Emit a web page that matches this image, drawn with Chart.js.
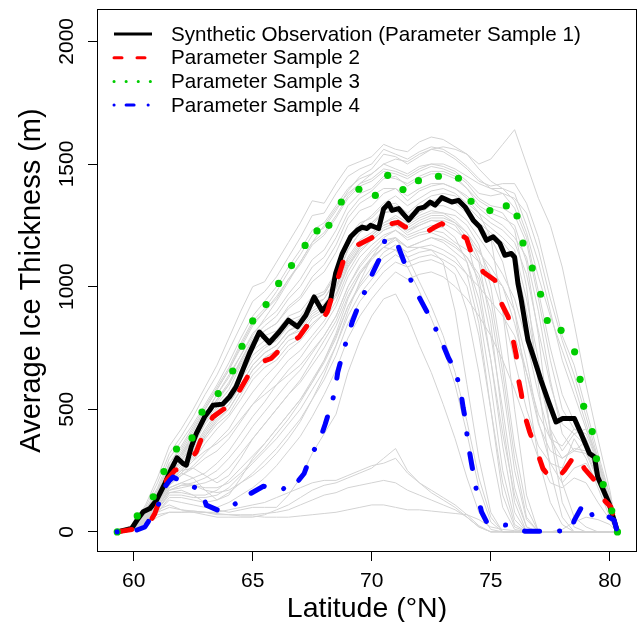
<!DOCTYPE html>
<html>
<head>
<meta charset="utf-8">
<script src="https://cdn.jsdelivr.net/npm/chart.js@4.4.1/dist/chart.umd.min.js"></script>
<style>
  html, body { margin: 0; padding: 0; background: #fff; }
  #wrap { width: 641px; height: 622px; }
</style>
</head>
<body>
<div id="wrap"><canvas id="chart" width="641" height="622"></canvas></div>
<script>
// ice thickness vs latitude, ensemble runs in gray + 4 highlighted samples

const xTicks = [60, 65, 70, 75, 80];
const yTicks = [0, 500, 1000, 1500, 2000];
const xTickLabels = ['60', '65', '70', '75', '80'];
const yTickLabels = ['0', '500', '1000', '1500', '2000'];
const xTitle = 'Latitude (\u00B0N)';
const yTitle = 'Average Ice Thickness (m)';
const seriesLabels = [
    'Synthetic Observation (Parameter Sample 1)',
    'Parameter Sample 2',
    'Parameter Sample 3',
    'Parameter Sample 4'
];

// Parameter sample 1 (black)
const latBlack = [59.3, 59.92, 60.19, 60.4, 60.68, 60.96, 61.31, 61.59, 61.82, 62.07, 62.21, 62.42, 62.63, 62.98, 63.19,
    63.33, 63.74, 64.02, 64.3, 64.6, 64.86, 65.28, 65.7, 66.11, 66.5, 66.88, 67.23, 67.58, 67.92, 68.27,
    68.48, 68.76, 69.11, 69.39, 69.6, 69.8, 69.95, 70.29, 70.5, 70.71, 70.85, 71.13, 71.55, 71.96, 72.2,
    72.45, 72.66, 72.94, 73.36, 73.64, 73.92, 74.26, 74.54, 74.82, 75.1, 75.38, 75.59, 75.86, 76.0, 76.14,
    76.28, 76.56, 76.84, 77.1, 77.4, 77.74, 78.02, 78.51, 78.79, 79.14, 79.35, 79.49, 79.97, 80.3];
const thickBlack = [0, 14, 55, 82, 95, 129, 197, 258, 302, 279, 272, 347, 401, 469, 496,
    516, 521, 550, 591, 665, 727, 815, 771, 815, 863, 836, 883, 958, 901, 945,
    1053, 1135, 1203, 1230, 1243, 1237, 1250, 1237, 1318, 1339, 1311, 1318, 1271, 1318, 1324,
    1345, 1332, 1363, 1345, 1352, 1325, 1271, 1243, 1189, 1203, 1176, 1128, 1135, 1120, 1013,
    945, 782, 700, 620, 537, 448, 462, 462, 401, 320, 306, 224, 116, 7];

// Parameter sample 2 (red dashed)
const latRed = [59.3, 59.92, 60.3, 60.61, 60.89, 61.38, 61.73, 62.0, 62.28, 62.63, 62.98, 63.33, 63.7, 64.02, 64.37,
    64.86, 65.3, 65.77, 66.26, 66.6, 66.95, 67.3, 67.6, 67.86, 68.13, 68.41, 68.62, 68.9, 69.39, 69.95,
    70.36, 70.6, 70.85, 71.1, 71.41, 71.76, 72.31, 72.6, 72.94, 73.36, 73.7, 73.98, 74.19, 74.68, 75.17,
    75.45, 75.73, 75.94, 76.07, 76.14, 76.28, 76.42, 76.63, 76.95, 77.19, 77.45, 77.68, 78.1, 78.58, 78.93,
    79.35, 79.62, 80.04, 80.32];
const thickRed = [0, 10, 15, 27, 75, 211, 251, 262, 285, 326, 415, 469, 495, 516, 564,
    646, 690, 707, 754, 770, 795, 843, 860, 856, 897, 985, 1046, 1135, 1169, 1196,
    1223, 1230, 1257, 1262, 1243, 1237, 1223, 1240, 1257, 1230, 1215, 1196, 1135, 1060, 1026,
    931, 877, 781, 720, 632, 564, 476, 408, 326, 258, 225, 204, 252, 320, 258,
    211, 143, 102, 7];

// Parameter sample 3 (green dotted)
const latGreen = [59.31, 60.15, 60.82, 61.27, 61.8, 62.45, 62.87, 63.55, 64.16, 64.55, 65.0, 65.56, 66.09, 66.63,
    67.2, 67.7, 68.2, 68.72, 69.46, 70.15, 70.67, 71.31, 71.96, 72.8, 73.64, 74.17, 74.96, 75.65,
    76.1, 76.35, 76.74, 77.09, 77.37, 77.95, 78.52, 78.75, 78.9, 79.26, 79.44, 79.72, 80.08, 80.32];
const thickGreen = [0, 65, 143, 246, 338, 383, 488, 564, 656, 757, 860, 927, 1013, 1086,
    1168, 1227, 1250, 1345, 1397, 1372, 1454, 1396, 1432, 1450, 1442, 1348, 1310, 1329,
    1288, 1178, 1076, 969, 862, 822, 734, 622, 512, 409, 298, 193, 86, 0];

// Parameter sample 4 (blue dot-dash)
const latBlue = [59.3, 60.12, 60.47, 60.61, 61.03, 61.31, 61.52, 61.65, 62.12, 62.84, 63.05, 63.64, 64.3, 64.51, 64.79,
    65.45, 66.24, 66.53, 66.72, 67.16, 67.44, 67.79, 68.04, 68.27, 68.45, 68.57, 68.8, 69.18, 69.53, 69.74,
    70.04, 70.36, 70.57, 71.06, 71.41, 71.55, 71.87, 72.36, 72.87, 73.22, 73.45, 73.71, 73.84, 73.94, 74.02,
    74.19, 74.42, 74.61, 74.82, 75.03, 75.73, 76.42, 76.98, 77.74, 78.37, 78.51, 78.9, 79.32, 79.46, 79.62,
    79.9, 80.18, 80.3];
const thickBlue = [0, 7, 20, 41, 109, 183, 211, 224, 200, 170, 109, 84, 116, 143, 150,
    186, 172, 194, 185, 238, 313, 367, 438, 510, 571, 650, 735, 856, 945, 985,
    1056, 1121, 1196, 1178, 1087, 1046, 978, 890, 792, 710, 670, 589, 506, 455, 374,
    279, 157, 82, 41, 31, 27, 3, 3, 3, 7, 48, 116, 61, 55, 68,
    64, 48, 3];

// other ensemble members (gray), all on the same latitude grid
const grayLat = [59.3, 60, 60.5, 61, 61.5, 62, 62.5, 63, 63.5, 64, 64.5, 65, 65.5, 66, 66.5,
    67, 67.5, 68, 68.5, 69, 69.5, 70, 70.5, 71, 71.5, 72, 72.5, 73, 73.5, 74,
    74.5, 75, 75.5, 76, 76.5, 77, 77.5, 78, 78.5, 79, 79.5, 80, 80.3];
const grayRuns = [
    [0,20,80,160,250, 320,400,480,560,640, 720,800,870,940,1020, 1100,1180,1250,1320,1380, 1420,1460,1500,1520,1510, 1540,1560,1570,1560,1540, 1500,1520,1580,1640,1500, 1360,1250,1080,850,600, 380,170,10],
    [0,30,110,220,350, 420,500,590,680,790, 900,1000,1020,1100,1180, 1260,1350,1340,1420,1490, 1510,1530,1580,1560,1550, 1590,1610,1600,1570,1540, 1480,1430,1400,1350,1220, 1040,880,740,600,440, 290,130,5],
    [0,20,90,180,300, 370,440,520,600,690, 790,880,940,1000,1080, 1150,1230,1260,1330,1400, 1440,1460,1500,1480,1460, 1490,1500,1490,1470,1430, 1380,1370,1380,1360,1300, 1150,950,780,640,470, 300,150,5],
    [0,15,80,150,250, 300,380,470,520,580, 680,760,800,820,880, 900,960,980,1060,1200, 1260,1280,1330,1340,1300, 1340,1370,1380,1370,1330, 1280,1240,1200,1150,950, 700,420,200,60,20, 0,0,0],
    [0,15,70,140,240, 290,350,440,500,550, 630,720,760,780,840, 860,930,950,1030,1150, 1220,1250,1300,1320,1280, 1310,1340,1350,1340,1300, 1250,1200,1100,900,600, 300,120,30,0,0, 0,0,0],
    [0,10,60,130,220, 270,330,410,480,520, 600,680,730,760,820, 840,900,930,1000,1120, 1190,1220,1260,1280,1250, 1280,1300,1300,1290,1250, 1170,1000,700,350,100, 0,0,0,0,0, 0,0,0],
    [0,10,60,120,210, 250,300,380,440,480, 560,640,690,720,780, 800,870,900,970,1090, 1160,1200,1240,1260,1220, 1250,1270,1270,1250,1180, 1000,700,350,80,0, 0,0,0,0,0, 0,0,0],
    [0,10,50,110,190, 230,260,300,330,380, 450,520,580,640,700, 740,800,860,940,1060, 1140,1190,1230,1250,1210, 1230,1250,1240,1200,1100, 900,600,250,50,0, 0,0,0,0,0, 0,0,0],
    [0,10,50,100,180, 200,220,240,280,330, 400,470,530,600,660, 710,780,840,920,1040, 1120,1170,1210,1230,1200, 1220,1230,1220,1180,1150, 1100,1050,1000,900,700, 450,280,200,260,280, 200,80,0],
    [0,10,60,120,200, 240,290,360,420,470, 540,620,670,700,760, 790,850,890,960,1080, 1150,1190,1230,1250,1230, 1250,1270,1260,1230,1190, 1140,1080,1000,850,650, 440,330,300,340,330, 220,90,0],
    [0,10,50,100,170, 180,190,200,220,260, 320,380,440,500,560, 620,700,780,860,980, 1060,1120,1160,1200,1160, 1180,1200,1180,1140,1100, 950,700,400,150,20, 0,0,0,0,0, 0,0,0],
    [0,10,40,90,160, 160,150,150,170,210, 260,310,360,420,480, 540,620,700,800,920, 1000,1060,1120,1150,1120, 1140,1150,1130,1100,1050, 1000,940,880,800,650, 480,380,350,420,380, 250,100,0],
    [0,8,40,80,140, 140,130,120,130,160, 200,240,290,340,400, 460,540,620,720,850, 940,1000,1060,1100,1080, 1100,1110,1090,1050,900, 650,350,100,10,0, 0,0,0,0,0, 0,0,0],
    [0,8,40,80,130, 120,110,100,100,120, 150,180,220,270,330, 390,470,560,660,790, 880,950,1010,1060,1030, 1050,1060,1040,1000,950, 880,800,700,580,440, 300,200,180,220,200, 120,50,0],
    [0,8,40,90,160, 170,150,120,90,80, 90,100,100,100,150, 220,320,400,480,650, 780,880,950,970,880, 760,650,520,380,220, 80,10,0,0,0, 0,0,0,0,0, 0,0,0],
    [0,8,40,100,180, 200,190,170,160,170, 200,230,270,320,380, 450,540,640,760,900, 1020,1120,1190,1200,1120, 1020,920,800,650,450, 220,60,0,0,0, 0,0,0,0,0, 0,0,0],
    [0,8,40,90,110, 90,80,70,60,60, 60,60,70,90,110, 140,170,190,200,220, 240,260,300,340,250, 200,160,130,100,60, 20,0,0,0,0, 0,0,0,0,0, 0,0,0],
    [0,8,40,70,80, 80,80,80,75,70, 70,70,75,80,90, 110,130,150,160,180, 190,200,210,200,170, 150,130,110,90,60, 20,0,0,0,0, 0,0,0,0,0, 0,0,0],
    [0,8,30,60,80, 80,85,80,70,70, 65,65,60,60,60, 65,70,75,80,90, 100,110,110,100,90, 90,85,80,75,70, 50,20,10,5,0, 0,0,10,40,60, 50,30,0],
    [0,10,60,130,230, 290,370,460,530,600, 700,780,820,850,920, 960,1040,1090,1170,1280, 1340,1370,1400,1400,1370, 1400,1420,1420,1400,1360, 1300,1200,900,500,150, 0,0,0,0,0, 0,0,0],
    [0,10,50,110,190, 240,290,330,360,400, 460,520,560,600,640, 680,740,800,880,1000, 1080,1140,1180,1200,1160, 1160,1150,1100,900,600, 300,80,0,0,0, 0,0,0,0,0, 0,0,0],
    [0,15,80,160,270, 330,410,500,580,660, 750,840,900,960,1030, 1100,1180,1220,1290,1370, 1420,1440,1480,1470,1450, 1480,1500,1500,1480,1450, 1420,1400,1400,1380,1250, 1100,900,700,560,420, 280,130,5],
    [0,10,60,120,200, 250,310,390,450,500, 580,660,710,740,800, 830,890,920,1000,1110, 1180,1210,1250,1270,1240, 1270,1290,1290,1260,1220, 1150,1050,900,700,500, 350,280,260,380,300, 180,60,0],
    [0,10,50,110,200, 240,220,170,130,150, 220,300,360,420,480, 540,610,690,790,920, 1010,1080,1140,1170,1140, 1160,1170,1150,1120,1050, 850,500,150,20,0, 0,0,0,0,0, 0,0,0],
    [0,10,50,110,200, 250,260,230,200,230, 300,380,440,500,560, 610,680,750,840,960, 1050,1110,1160,1190,1160, 1180,1200,1190,1160,1120, 1050,900,600,250,50, 0,0,0,0,0, 0,0,0],
    [0,15,75,150,260, 320,390,480,560,630, 720,810,860,900,970, 1030,1110,1150,1230,1330, 1380,1400,1450,1440,1420, 1450,1470,1470,1450,1400, 1330,1300,1280,1250,1100, 800,400,120,20,0, 0,0,0],
    [0,12,70,140,240, 290,360,450,510,560, 650,740,780,800,860, 880,950,970,1050,1170, 1240,1260,1310,1330,1290, 1320,1350,1360,1350,1310, 1260,1220,1180,1120,900, 650,420,330,400,350, 230,90,0],
    [0,10,55,120,210, 260,310,390,460,500, 580,660,710,740,800, 820,880,910,990,1100, 1170,1210,1250,1270,1230, 1260,1280,1280,1260,1200, 1100,850,450,120,0, 0,0,0,0,0, 0,0,0],
    [0,18,85,170,280, 350,430,510,590,670, 770,860,910,980,1060, 1130,1210,1240,1310,1390, 1450,1480,1540,1530,1500, 1530,1560,1550,1520,1480, 1430,1410,1420,1420,1340, 1200,1000,800,680,500, 320,150,5],
    [0,15,75,150,260, 310,380,460,540,610, 700,790,840,880,950, 1000,1080,1120,1200,1300, 1360,1390,1440,1450,1410, 1440,1460,1460,1440,1400, 1350,1320,1300,1230,1000, 600,250,60,0,0, 0,0,0],
    [0,12,70,140,230, 280,340,420,490,540, 620,700,750,780,840, 870,940,970,1050,1180, 1250,1290,1340,1370,1330, 1360,1390,1400,1380,1340, 1300,1260,1230,1180,1050, 820,600,440,400,420, 300,120,0],
    [0,10,55,115,200, 230,270,320,370,420, 500,570,630,680,740, 780,840,890,970,1080, 1160,1210,1260,1290,1260, 1290,1310,1300,1270,1220, 1120,950,650,300,60, 0,0,0,0,0, 0,0,0],
    [0,10,45,100,170, 190,200,220,250,300, 360,430,490,550,610, 660,730,800,880,1000, 1090,1150,1200,1230,1190, 1210,1220,1200,1170,1120, 1030,800,500,180,20, 0,0,0,0,0, 0,0,0],
    [0,8,40,90,150, 150,140,140,150,180, 230,280,330,380,440, 500,580,660,760,880, 970,1030,1090,1130,1100, 1120,1130,1110,1080,1000, 800,500,200,30,0, 0,0,0,0,0, 0,0,0],
    [0,15,80,155,260, 310,390,470,540,600, 690,770,820,850,910, 950,1020,1060,1140,1250, 1310,1330,1380,1400,1350, 1390,1410,1420,1400,1370, 1320,1280,1250,1200,1120, 900,620,400,330,370, 260,110,0],
    [0,25,100,200,320, 390,470,560,640,740, 840,940,980,1040,1120, 1200,1290,1300,1380,1450, 1480,1500,1560,1540,1520, 1550,1570,1560,1530,1490, 1440,1400,1380,1320,1200, 980,750,560,450,380, 260,120,5],
    [0,8,40,100,170, 190,190,180,180,200, 240,290,340,400,460, 530,610,700,810,950, 1050,1120,1160,1150,1080, 980,870,750,600,400, 180,40,0,0,0, 0,0,0,0,0, 0,0,0],
    [0,8,40,80,100, 90,85,80,80,90, 100,110,120,140,160, 180,200,210,210,230, 250,270,280,300,240, 200,170,140,110,70, 25,0,0,0,0, 0,0,0,0,0, 0,0,0],
    [0,12,65,130,220, 270,320,400,470,520, 600,680,730,760,820, 850,910,950,1030,1150, 1220,1260,1300,1310,1270, 1300,1330,1330,1310,1270, 1200,1130,1050,950,780, 560,380,300,330,320, 210,80,0],
    [0,20,85,170,280, 340,420,500,580,660, 760,850,900,950,1030, 1090,1170,1210,1280,1360, 1410,1430,1470,1460,1440, 1470,1490,1480,1460,1420, 1360,1330,1320,1290,1180, 950,700,500,420,400, 280,120,5]
];

const FONT = '"Liberation Sans", Arial, Helvetica, sans-serif';
const GRAY = '#d3d3d3';
const GREEN = '#00cd00';

function pairs(xs, ys) {
    const n = Math.min(xs.length, ys.length);
    const out = [];
    for (let i = 0; i < n; i++) out.push({ x: xs[i], y: ys[i] });
    return out;
}

const datasets = [];
grayRuns.forEach(run => {
    datasets.push({
        data: pairs(grayLat, run),
        borderColor: GRAY,
        borderWidth: 1,
        pointRadius: 0,
        order: 10
    });
});
datasets.push({
    label: seriesLabels[0],
    data: pairs(latBlack, thickBlack),
    borderColor: '#000000',
    borderWidth: 5,
    borderJoinStyle: 'round',
    borderCapStyle: 'round',
    pointRadius: 0,
    order: 4,
    legendDash: [],
    legendWidth: 3
});
datasets.push({
    label: seriesLabels[1],
    data: pairs(latRed, thickRed),
    borderColor: '#ff0000',
    borderWidth: 5,
    borderDash: [15, 25],
    borderJoinStyle: 'round',
    borderCapStyle: 'round',
    pointRadius: 0,
    order: 3,
    legendDash: [8, 15],
    legendWidth: 3
});
datasets.push({
    label: seriesLabels[2],
    data: pairs(latGreen, thickGreen),
    borderColor: GREEN,
    backgroundColor: GREEN,
    showLine: false,
    pointRadius: 3.6,
    pointBorderWidth: 0,
    pointBackgroundColor: GREEN,
    order: 2,
    legendDash: [0.1, 12],
    legendWidth: 3
});
datasets.push({
    label: seriesLabels[3],
    data: pairs(latBlue, thickBlue),
    borderColor: '#0000ff',
    borderWidth: 5,
    borderDash: [0.1, 20, 15, 20],
    borderJoinStyle: 'round',
    borderCapStyle: 'round',
    pointRadius: 0,
    order: 1,
    legendDash: [0.1, 12, 8, 14],
    legendWidth: 3
});

// box, axis texts and legend, drawn after the datasets
const decorations = {
    id: 'decorations',
    afterDraw(chart) {
        const ctx = chart.ctx;
        const a = chart.chartArea;
        const xs = chart.scales.x;
        const ys = chart.scales.y;
        ctx.save();

        ctx.strokeStyle = '#000';
        ctx.lineWidth = 1;
        ctx.setLineDash([]);
        ctx.strokeRect(Math.round(a.left) + 0.5, Math.round(a.top) + 0.5,
            Math.round(a.right) - Math.round(a.left) - 1, Math.round(a.bottom) - Math.round(a.top) - 1);

        ctx.fillStyle = '#000';
        ctx.font = '21px ' + FONT;
        ctx.textAlign = 'center';
        ctx.textBaseline = 'alphabetic';
        xTicks.forEach((v, i) => ctx.fillText(xTickLabels[i], xs.getPixelForValue(v), 587));

        yTicks.forEach((v, i) => {
            ctx.save();
            ctx.translate(73, ys.getPixelForValue(v));
            ctx.rotate(-Math.PI / 2);
            ctx.fillText(yTickLabels[i], 0, 0);
            ctx.restore();
        });

        ctx.font = '28.5px ' + FONT;
        ctx.fillText(xTitle, (a.left + a.right) / 2, 617);
        ctx.font = '29px ' + FONT;
        ctx.save();
        ctx.translate(40, (a.top + a.bottom) / 2);
        ctx.rotate(-Math.PI / 2);
        ctx.fillText(yTitle, 0, 0);
        ctx.restore();

        // legend
        const x0 = 114, x1 = 152, textX = 171;
        const rowY = [34, 57.7, 81.5, 105];
        ctx.font = '20.6px ' + FONT;
        ctx.textAlign = 'left';
        ctx.textBaseline = 'middle';
        const shown = chart.data.datasets.filter(d => d.label);
        shown.forEach((d, i) => {
            const y = rowY[i];
            ctx.beginPath();
            ctx.strokeStyle = d.borderColor;
            ctx.lineWidth = d.legendWidth;
            ctx.lineCap = d.legendDash.length ? 'round' : 'butt';
            ctx.setLineDash(d.legendDash);
            ctx.moveTo(x0, y);
            ctx.lineTo(x1, y);
            ctx.stroke();
            ctx.setLineDash([]);
            ctx.fillStyle = '#000';
            ctx.fillText(d.label, textX, y + 1);
        });

        ctx.restore();
    }
};

const axisCommon = {
    type: 'linear',
    ticks: { display: false },
    grid: { drawOnChartArea: false, drawTicks: true, tickLength: 9, color: '#000', lineWidth: 1 },
    border: { display: false }
};

new Chart(document.getElementById('chart').getContext('2d'), {
    type: 'line',
    data: { datasets: datasets },
    options: {
        responsive: false,
        animation: false,
        devicePixelRatio: 1,
        layout: { padding: { top: 9, right: 1, left: 0, bottom: 0 } },
        elements: { line: { tension: 0 } },
        plugins: { legend: { display: false }, tooltip: { enabled: false } },
        scales: {
            x: Object.assign({}, axisCommon, {
                min: 58.46, max: 81.14,
                afterBuildTicks: s => { s.ticks = xTicks.map(v => ({ value: v })); },
                afterFit: s => { s.height = 70; }
            }),
            y: Object.assign({}, axisCommon, {
                min: -82, max: 2132,
                afterBuildTicks: s => { s.ticks = yTicks.map(v => ({ value: v })); },
                afterFit: s => { s.width = 97; }
            })
        }
    },
    plugins: [decorations]
});
</script>
</body>
</html>
